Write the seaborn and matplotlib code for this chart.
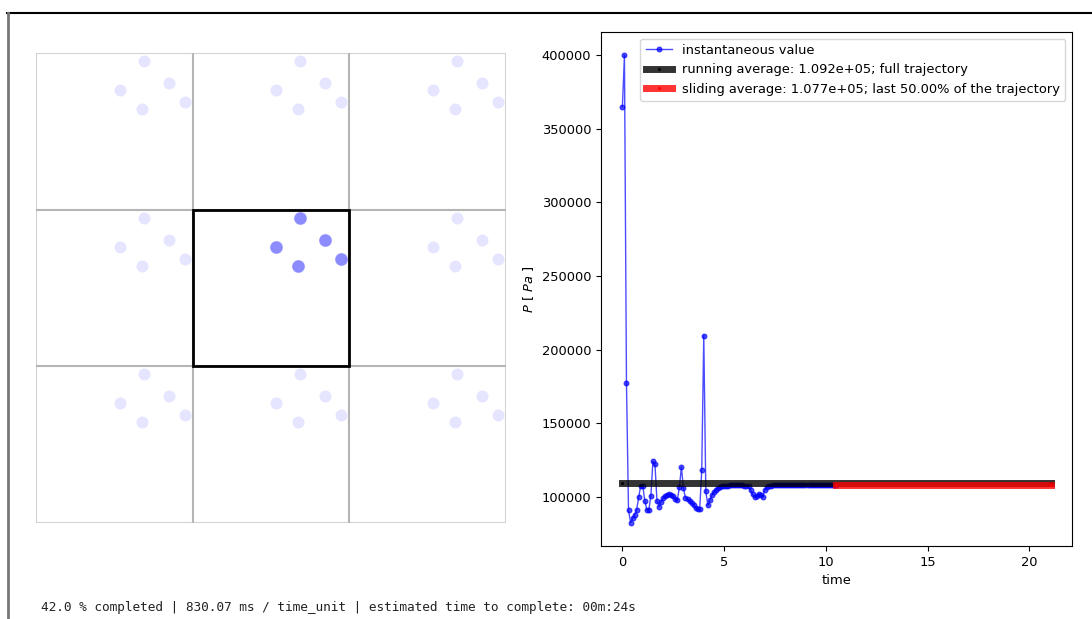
import numpy as np
import pandas as pd
import matplotlib
matplotlib.use("Agg")
import matplotlib.pyplot as plt
from matplotlib.lines import Line2D
from matplotlib.patches import Rectangle
import seaborn as sns

plt.rcParams["font.size"] = 9.4

# --- particle configuration (fractional coordinates in a unit box) ---
particle_x = [0.688, 0.535, 0.847, 0.675, 0.949]
particle_y = [0.949, 0.764, 0.809, 0.643, 0.688]
box_length = 1.0

# --- pressure trace ---
dt = 0.1
pressure = [
    365000, 400000, 177000, 91000, 82300, 85200, 87800, 91000, 99500, 107500,
    107500, 97300, 91000, 91000, 100700, 124000, 122200, 96800, 93200, 96500,
    99000, 100500, 101300, 101500, 101000, 100200, 98500, 97500, 106300, 120000,
    105600, 99100, 98400, 97000, 95600, 94000, 92000, 91600, 91600, 118000,
    209500, 103600, 94000, 97700, 101000, 103200, 104800, 105800, 106400, 106900,
    107200, 107400, 107500, 107600, 107700, 107700, 107700, 107700, 107700, 107600,
    107500, 107300, 107000, 104500, 101500, 99600, 100200, 101800, 101200, 100000,
    104500, 106500, 107200, 107500, 107600, 107700, 107700, 107700, 107700, 107700,
    107700, 107700, 107700, 107700, 107700, 107700, 107700, 107700, 107700, 107700,
    107700, 107700, 107700, 107700, 107700, 107700, 107700, 107700, 107700, 107700,
    107700, 107700, 107700, 107700, 107700, 107700,
]
time = np.arange(len(pressure)) * dt

running_avg = 1.092e05
sliding_avg = 1.077e05
sliding_frac = 50.0
t_end = 21.05
t_sliding_start = 10.5

status_text = ("42.0 % completed | 830.07 ms / time_unit | "
               "estimated time to complete: 00m:24s")

fig = plt.figure(figsize=(10.92, 6.19), dpi=100)

# widget frame
fig.add_artist(Line2D([7 / 1092, 1.0], [1 - 13 / 619] * 2, color="black", lw=1.5,
                      transform=fig.transFigure))
fig.add_artist(Line2D([8 / 1092] * 2, [0, 1 - 13 / 619], color="#777777", lw=2,
                      transform=fig.transFigure))

# --- left: simulation box with periodic images ---
ax_box = fig.add_axes([36 / 1092, 1 - 523 / 619, 470 / 1092, 470 / 619])
for i in (-1, 0, 1):
    for j in (-1, 0, 1):
        ax_box.add_patch(Rectangle((i * box_length, j * box_length), box_length, box_length,
                                   fill=False, edgecolor="gray", alpha=0.35, lw=1.5))
        if i == 0 and j == 0:
            continue
        img = pd.DataFrame({"x": np.array(particle_x) + i * box_length,
                            "y": np.array(particle_y) + j * box_length})
        sns.scatterplot(data=img, x="x", y="y", ax=ax_box, color="blue", alpha=0.1,
                        s=75, linewidth=0, legend=False)
ax_box.add_patch(Rectangle((0, 0), box_length, box_length, fill=False,
                           edgecolor="black", lw=2, zorder=5))
sns.scatterplot(x=particle_x, y=particle_y, ax=ax_box, color="blue", alpha=0.45,
                s=75, linewidth=0.8, edgecolor="#8080ff", legend=False, zorder=6)
ax_box.set_xlim(-box_length, 2 * box_length)
ax_box.set_ylim(-box_length, 2 * box_length)
ax_box.set_aspect("equal")
ax_box.axis("off")

# --- right: pressure vs time ---
ax = fig.add_axes([601 / 1092, 1 - 546 / 619, 471 / 1092, 514 / 619])
sns.lineplot(x=time, y=pressure, ax=ax, color="blue", marker="o", markersize=3.5,
             markeredgecolor="blue", lw=1, alpha=0.7, label="instantaneous value",
             zorder=2)
sns.lineplot(x=[0, t_end], y=[running_avg, running_avg], ax=ax, color="black",
             lw=5, alpha=0.8, marker=".", markersize=3, markeredgecolor="black",
             label=f"running average: {running_avg:.3e}; full trajectory", zorder=3)
sns.lineplot(x=[t_sliding_start, t_end], y=[sliding_avg, sliding_avg], ax=ax,
             color="red", lw=5, alpha=0.8, marker=".", markersize=3, markeredgecolor="red",
             label=f"sliding average: {sliding_avg:.3e}; last {sliding_frac:.2f}% of the trajectory",
             zorder=4)
ax.set_xticks([0, 5, 10, 15, 20])
ax.set_xlabel("time")
ax.set_ylabel(r"$P\ [\ Pa\ ]$")
ax.legend(loc="upper right", borderaxespad=0.5)

fig.text(41 / 1092, 1 - 608 / 619, status_text, family="DejaVu Sans Mono",
         fontsize=9.2, va="center", ha="left", color="#222222")

fig.savefig("out.png", dpi=100)
